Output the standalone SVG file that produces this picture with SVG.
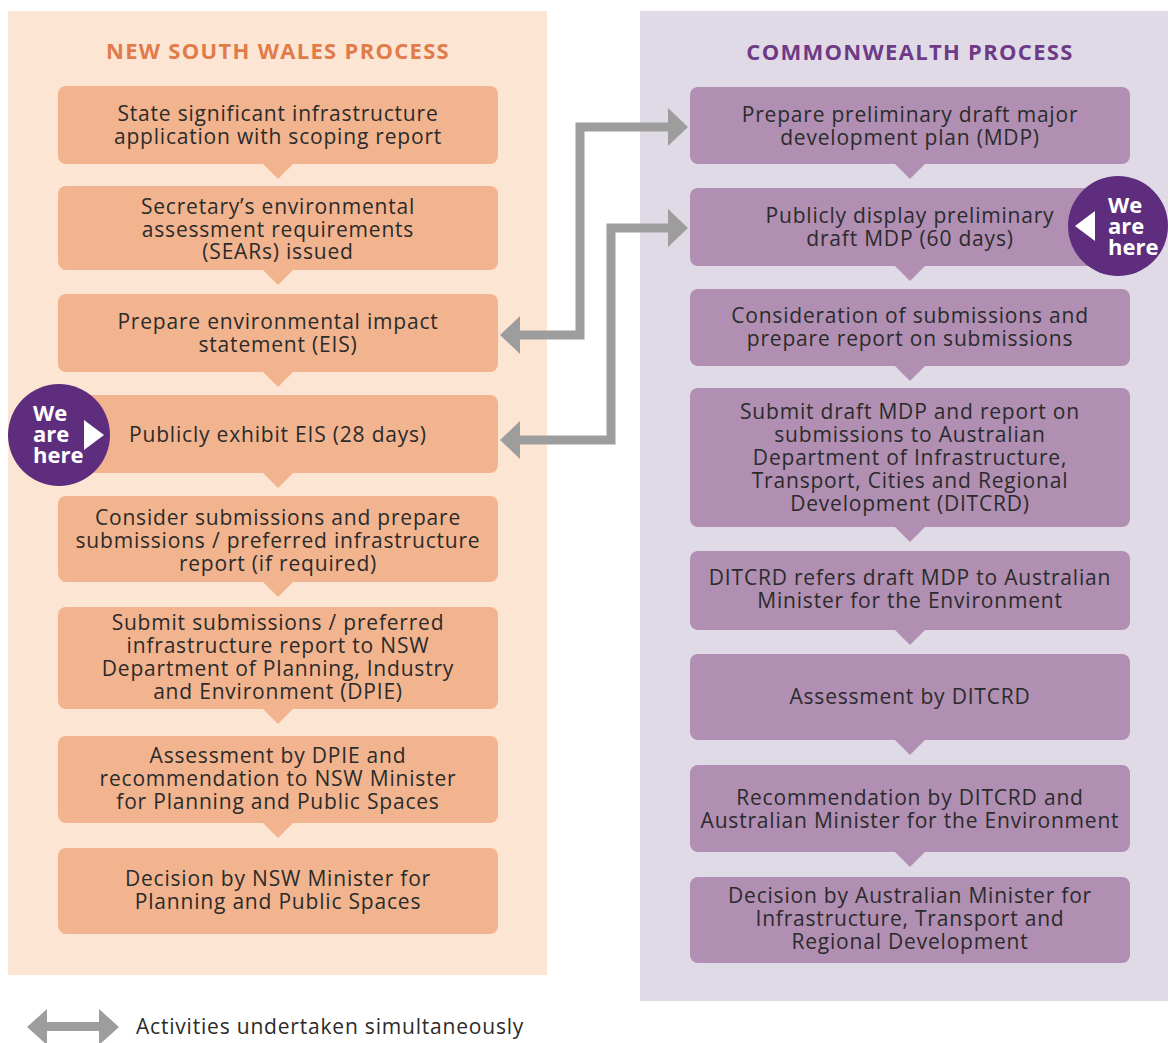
<svg xmlns="http://www.w3.org/2000/svg" width="1168" height="1043" viewBox="0 0 1168 1043">
<defs>
<style>
.t{font-family:"Open Sans","Liberation Sans",sans-serif;font-size:21px;letter-spacing:0.8px;fill:#2b2b2b;text-anchor:middle}
.h{font-family:"Open Sans","Liberation Sans",sans-serif;font-size:22px;letter-spacing:1.3px;font-weight:bold;text-anchor:middle}
.w{font-family:"Open Sans","Liberation Sans",sans-serif;font-size:22px;font-weight:bold;fill:#ffffff}
.nb{fill:#f2b48f}
.cb{fill:#b08fb3}
.ln{fill:none;stroke:#9d9d9d;stroke-width:9}
.ah{fill:#9d9d9d}
</style>
</defs>
<rect width="1168" height="1043" fill="#ffffff"/>
<rect id="nsw-panel" x="8" y="11" width="539" height="964" fill="#fde5d4"/>
<rect id="cw-panel" x="640" y="11" width="528" height="990" fill="#e0dae6"/>
<text class="h" x="278" y="59" fill="#e07b4a">NEW SOUTH WALES PROCESS</text>
<text class="h" x="910" y="60" fill="#6e3a86">COMMONWEALTH PROCESS</text>

<g id="connectors">
<polyline class="ln" points="520,335 580,335 580,127 668,127"/>
<polygon class="ah" points="500,335 520,316 520,354"/>
<polygon class="ah" points="688,127 668,108 668,146"/>
<polyline class="ln" points="520,440 611,440 611,228 668,228"/>
<polygon class="ah" points="500,440 520,421 520,459"/>
<polygon class="ah" points="688,228 668,209 668,247"/>
</g>

<g id="nsw1"><rect class="nb" x="58" y="86" width="440" height="78" rx="8"/><polygon class="nb" points="263,164 293,164 278,179"/>
<text class="t" x="278" y="121">State significant infrastructure<tspan x="278" dy="23">application with scoping report</tspan></text></g>
<g id="nsw2"><rect class="nb" x="58" y="186" width="440" height="84" rx="8"/><polygon class="nb" points="263,270 293,270 278,285"/>
<text class="t" x="278" y="214">Secretary’s environmental<tspan x="278" dy="23">assessment requirements</tspan><tspan x="278" dy="22">(SEARs) issued</tspan></text></g>
<g id="nsw3"><rect class="nb" x="58" y="294" width="440" height="78" rx="8"/><polygon class="nb" points="263,372 293,372 278,387"/>
<text class="t" x="278" y="329">Prepare environmental impact<tspan x="278" dy="23">statement (EIS)</tspan></text></g>
<g id="nsw4"><rect class="nb" x="58" y="395" width="440" height="78" rx="8"/><polygon class="nb" points="263,473 293,473 278,488"/>
<text class="t" x="278" y="442">Publicly exhibit EIS (28 days)</text></g>
<g id="nsw5"><rect class="nb" x="58" y="496" width="440" height="86" rx="8"/><polygon class="nb" points="263,582 293,582 278,597"/>
<text class="t" x="278" y="525">Consider submissions and prepare<tspan x="278" dy="23">submissions / preferred infrastructure</tspan><tspan x="278" dy="23">report (if required)</tspan></text></g>
<g id="nsw6"><rect class="nb" x="58" y="607" width="440" height="102" rx="8"/><polygon class="nb" points="263,709 293,709 278,724"/>
<text class="t" x="278" y="630">Submit submissions / preferred<tspan x="278" dy="23">infrastructure report to NSW</tspan><tspan x="278" dy="23">Department of Planning, Industry</tspan><tspan x="278" dy="23">and Environment (DPIE)</tspan></text></g>
<g id="nsw7"><rect class="nb" x="58" y="736" width="440" height="87" rx="8"/><polygon class="nb" points="263,823 293,823 278,838"/>
<text class="t" x="278" y="763">Assessment by DPIE and<tspan x="278" dy="23">recommendation to NSW Minister</tspan><tspan x="278" dy="23">for Planning and Public Spaces</tspan></text></g>
<g id="nsw8"><rect class="nb" x="58" y="848" width="440" height="86" rx="8"/>
<text class="t" x="278" y="886">Decision by NSW Minister for<tspan x="278" dy="23">Planning and Public Spaces</tspan></text></g>

<g id="cw1"><rect class="cb" x="690" y="87" width="440" height="77" rx="8"/><polygon class="cb" points="895,164 925,164 910,179"/>
<text class="t" x="910" y="122">Prepare preliminary draft major<tspan x="910" dy="23">development plan (MDP)</tspan></text></g>
<g id="cw2"><rect class="cb" x="690" y="188" width="440" height="78" rx="8"/><polygon class="cb" points="895,266 925,266 910,281"/>
<text class="t" x="910" y="223">Publicly display preliminary<tspan x="910" dy="23">draft MDP (60 days)</tspan></text></g>
<g id="cw3"><rect class="cb" x="690" y="289" width="440" height="77" rx="8"/><polygon class="cb" points="895,366 925,366 910,381"/>
<text class="t" x="910" y="323">Consideration of submissions and<tspan x="910" dy="23">prepare report on submissions</tspan></text></g>
<g id="cw4"><rect class="cb" x="690" y="388" width="440" height="139" rx="8"/><polygon class="cb" points="895,527 925,527 910,542"/>
<text class="t" x="910" y="419">Submit draft MDP and report on<tspan x="910" dy="23">submissions to Australian</tspan><tspan x="910" dy="23">Department of Infrastructure,</tspan><tspan x="910" dy="23">Transport, Cities and Regional</tspan><tspan x="910" dy="23">Development (DITCRD)</tspan></text></g>
<g id="cw5"><rect class="cb" x="690" y="551" width="440" height="79" rx="8"/><polygon class="cb" points="895,630 925,630 910,645"/>
<text class="t" x="910" y="585">DITCRD refers draft MDP to Australian<tspan x="910" dy="23">Minister for the Environment</tspan></text></g>
<g id="cw6"><rect class="cb" x="690" y="654" width="440" height="86" rx="8"/><polygon class="cb" points="895,740 925,740 910,755"/>
<text class="t" x="910" y="704">Assessment by DITCRD</text></g>
<g id="cw7"><rect class="cb" x="690" y="765" width="440" height="87" rx="8"/><polygon class="cb" points="895,852 925,852 910,867"/>
<text class="t" x="910" y="805">Recommendation by DITCRD and<tspan x="910" dy="23">Australian Minister for the Environment</tspan></text></g>
<g id="cw8"><rect class="cb" x="690" y="877" width="440" height="86" rx="8"/>
<text class="t" x="910" y="903">Decision by Australian Minister for<tspan x="910" dy="23">Infrastructure, Transport and</tspan><tspan x="910" dy="23">Regional Development</tspan></text></g>

<g id="here-nsw"><circle cx="59" cy="435" r="51" fill="#5e2d7e"/><polygon points="84,420 104,435 84,450" fill="#ffffff"/>
<text class="w" x="33" y="421">We<tspan x="33" dy="21">are</tspan><tspan x="33" dy="21">here</tspan></text></g>
<g id="here-cw"><circle cx="1118" cy="226" r="50" fill="#5e2d7e"/><polygon points="1095,211 1075,226 1095,241" fill="#ffffff"/>
<text class="w" x="1108" y="213">We<tspan x="1108" dy="21">are</tspan><tspan x="1108" dy="21">here</tspan></text></g>

<g id="legend"><rect x="44" y="1022" width="58" height="9" fill="#9d9d9d"/><polygon class="ah" points="27,1027 47,1009 47,1045"/><polygon class="ah" points="119,1027 99,1009 99,1045"/>
<text class="t" x="136" y="1034" style="text-anchor:start">Activities undertaken simultaneously</text></g>
</svg>
